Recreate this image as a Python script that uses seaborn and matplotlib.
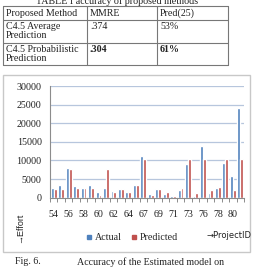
import numpy as np
import pandas as pd
import matplotlib
matplotlib.use("Agg")
import matplotlib.pyplot as plt
from matplotlib.patches import Rectangle
from matplotlib.lines import Line2D
import seaborn as sns

# ---- data ----
project_ids = [54, 55, 56, 57, 58, 59, 60, 61, 62, 63, 64, 65, 67, 68, 69, 70,
               71, 72, 73, 74, 76, 77, 78, 79, 80, 81]
actual = [2500, 3500, 8100, 3200, 2500, 3400, 1400, 2600, 1700, 2400, 1500, 3500,
          11300, 1000, 2400, 1000, 400, 2200, 9000, 400, 13800, 1300, 2600, 9400,
          5700, 24000]
predicted = [2400, 2400, 7800, 2500, 2500, 2700, 700, 7800, 1550, 2300, 1500, 3400,
             10500, 700, 2400, 1500, 400, 2500, 10500, 1300, 10500, 2200, 3000, 10500,
             2000, 10500]
series_names = ["Actual", "Predicted"]
y_ticks = [0, 5000, 10000, 15000, 20000, 25000, 30000]

table_header = ["Proposed Method", "MMRE", "Pred(25)"]
table_rows = [["C4.5 Average\nPrediction", ".374", "53%"],
              ["C4.5 Probabilistic\nPrediction", ".304", "61%"]]

W, H = 255, 280
sns.set_style("white")
plt.rcParams['font.family'] = ['Liberation Serif', 'DejaVu Serif']

fig = plt.figure(figsize=(W / 100, H / 100), dpi=100)
fig.patch.set_facecolor("white")


def fx(px):
    return px / W


def fy(py):
    return 1 - py / H


# ---- table ----
fig.text(fx(117), fy(3.5), "TABLE I accuracy of proposed methods", ha="center",
         va="baseline", fontsize=7.2, color="#222222")
col_x = [3, 87, 157, 228]
row_y = [6, 20, 43, 65]
for x in col_x:
    fig.add_artist(Line2D([fx(x), fx(x)], [fy(row_y[0]), fy(row_y[-1])],
                          color="#777777", lw=0.8))
for y in row_y:
    fig.add_artist(Line2D([fx(col_x[0]), fx(col_x[-1])], [fy(y), fy(y)],
                          color="#777777", lw=0.8))
for j, txt in enumerate(table_header):
    fig.text(fx(col_x[j] + 3), fy(13), txt, ha="left", va="center",
             fontsize=7.2, color="#222222")
for i, row in enumerate(table_rows):
    top = row_y[i + 1]
    for j, txt in enumerate(row):
        weight = "bold" if (i == 1 and j > 0) else "normal"
        fig.text(fx(col_x[j] + 3), fy(top + 2), txt, ha="left", va="top",
                 fontsize=7.2, color="#222222", weight=weight, linespacing=1.05)

# ---- chart frame ----
fig.add_artist(Rectangle((fx(3), fy(252)), fx(250) - fx(3), fy(75) - fy(252),
                         transform=fig.transFigure, fill=False,
                         edgecolor="#c8c8c8", lw=1.0))

# ---- bar chart ----
ax_left, ax_right, ax_top, ax_bottom = 50, 244, 86, 197.7
ax = fig.add_axes([fx(ax_left), fy(ax_bottom), fx(ax_right) - fx(ax_left),
                   fy(ax_top) - fy(ax_bottom)])

df = pd.DataFrame({
    "ProjectID": [str(p) for p in project_ids] * 2,
    "Effort": actual + predicted,
    "Series": [series_names[0]] * len(project_ids) + [series_names[1]] * len(project_ids),
})
palette = {"Actual": "#4F81BD", "Predicted": "#C0504D"}
sns.barplot(data=df, x="ProjectID", y="Effort", hue="Series", palette=palette,
            order=[str(p) for p in project_ids], width=0.78, ax=ax,
            legend=False, saturation=1)

ax.set_ylim(0, 30000)
ax.set_xlim(-0.5, len(project_ids) - 0.5)
ax.set_yticks(y_ticks)
ax.set_yticklabels([str(v) for v in y_ticks])
ax.set_xticks(range(0, len(project_ids), 2))
ax.set_xticklabels([str(project_ids[i]) for i in range(0, len(project_ids), 2)])
ax.set_xticks(np.arange(-0.5, len(project_ids), 1), minor=True)
ax.set_xlabel("")
ax.set_ylabel("")
ax.yaxis.grid(True, color="#b7c6dd", lw=0.9)
ax.set_axisbelow(True)
for s in ["top", "right"]:
    ax.spines[s].set_visible(False)
ax.spines["left"].set_color("#8c8c8c")
ax.spines["bottom"].set_color("#8c8c8c")
ax.spines["left"].set_linewidth(0.8)
ax.spines["bottom"].set_linewidth(0.8)
ax.tick_params(axis="y", which="major", length=3, width=0.7, color="#8c8c8c",
               labelsize=7.2, pad=3, labelcolor="#222222")
ax.tick_params(axis="x", which="major", length=0, labelsize=7.2, pad=8.5,
               labelcolor="#222222")
ax.tick_params(axis="x", which="minor", length=3, width=0.7, color="#8c8c8c",
               bottom=True)

# ---- legend ----
handles = [Line2D([], [], marker="s", linestyle="none", markersize=3.5,
                  markerfacecolor=palette[n], markeredgecolor=palette[n])
           for n in series_names]
fig.legend(handles, series_names, loc="center", bbox_to_anchor=(fx(132), fy(238)),
           frameon=False, fontsize=7.2, ncol=2, handlelength=0.6,
           handletextpad=0.3, columnspacing=0.9, borderpad=0)

# ---- axis annotations ----
fig.text(fx(229), fy(236), "\u2192ProjectID", ha="center", va="center",
         fontsize=6.0, family=["Liberation Sans Narrow", "DejaVu Sans"],
         color="#222222")
fig.text(fx(20), fy(228), "\u2192Effort", ha="center", va="center",
         rotation=90, fontsize=6.5, family=["Liberation Sans", "DejaVu Sans"],
         color="#222222")

# ---- caption ----
fig.text(fx(15), fy(262), "Fig. 6.", ha="left", va="center", fontsize=7.2,
         color="#222222")
fig.text(fx(77), fy(262), "Accuracy of the Estimated model on", ha="left",
         va="center", fontsize=7.2, color="#222222")

fig.savefig("out.png", dpi=100, facecolor="white")
